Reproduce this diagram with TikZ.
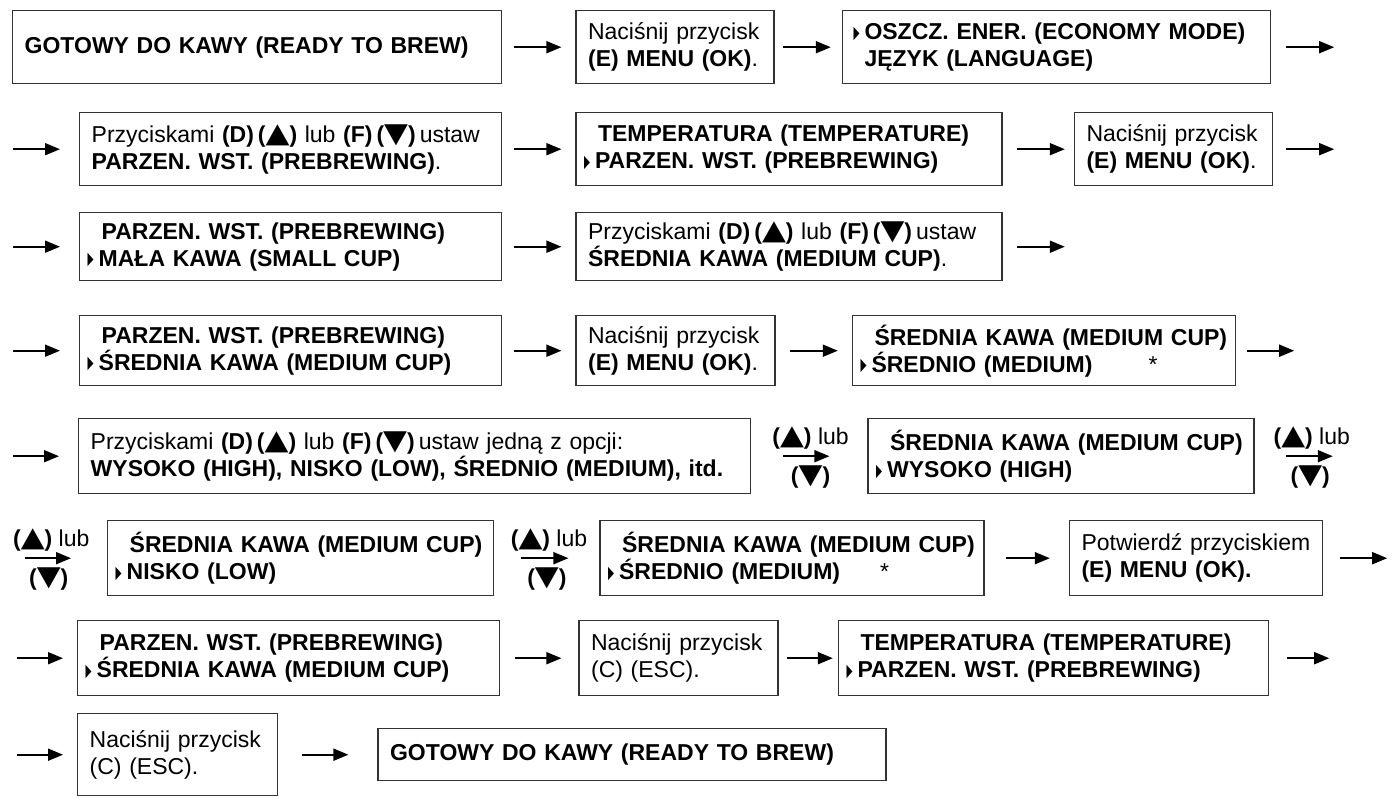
\documentclass[tikz,border=0pt]{standalone}
\usepackage{fontspec}
\usepackage{graphicx}
\usepackage{tikz}
\usetikzlibrary{positioning,arrows.meta}
\setmainfont{Liberation Sans}
\newfontfamily\symf{DejaVu Sans}

\newcommand{\sel}{\makebox[11pt][l]{\raisebox{1.5pt}{\scalebox{0.34}[0.76]{\symf ▶}}}}
\newcommand{\nsel}{\hspace*{14pt}}
\newcommand{\kup}{\textbf{(}\scalebox{1.35}[1.2]{\symf ▲}\textbf{)}}
\newcommand{\kdn}{\textbf{(}\scalebox{1.35}[1.2]{\symf ▼}\textbf{)}}

\begin{document}
\begin{tikzpicture}[x=1pt, y=1pt,
  panel/.style={draw=black!80, line width=1.4pt, align=left, minimum height=73pt, anchor=north west, font=\fontsize{23}{27}\selectfont},
  hint/.style={panel, inner xsep=12pt},
  lcd/.style={panel, inner xsep=8pt, font=\fontsize{23}{27}\selectfont\bfseries},
  rel/.style={-{Triangle[length=15pt,width=12pt]}, line width=1.8pt, shorten <=12pt, shorten >=14pt},
  keys/.style={font=\fontsize{23}{27}\selectfont, inner sep=1pt}]
\useasboundingbox (0,0) rectangle (1393,-798);

% row 1
\node[hint, text width=465pt] (ready1) at (12,-10) {\textbf{GOTOWY DO KAWY (READY TO BREW)}};
\node[hint, right=73pt of ready1, text width=174pt] (press1) {Naciśnij przycisk\\\textbf{(E) MENU (OK)}.};
\node[lcd, right=67pt of press1, text width=412pt] (econ) {\hspace*{3pt}\sel OSZCZ. ENER. (ECONOMY MODE)\\\nsel JĘZYK (LANGUAGE)};
\coordinate[right=63pt of econ] (out1);
\draw[rel] (ready1) -- (press1);
\draw[rel, shorten <=8pt, shorten >=11pt] (press1) -- (econ);
\draw[rel, shorten <=15pt, shorten >=0pt] (econ) -- (out1);

% row 2
\node[hint, text width=398pt] (setD1) at (79,-112) {Przyciskami \textbf{(D)}\hspace{4pt}\kup{} lub \textbf{(F)}\hspace{4pt}\kdn\hspace{4pt}ustaw\\\textbf{PARZEN. WST. (PREBREWING)}.};
\node[lcd, right=73pt of setD1, text width=410pt] (temp1) {\nsel TEMPERATURA (TEMPERATURE)\\\sel PARZEN. WST. (PREBREWING)};
\node[hint, right=71pt of temp1, text width=174pt] (press2) {Naciśnij przycisk\\\textbf{(E) MENU (OK)}.};
\coordinate[left=66pt of setD1] (in2);
\coordinate[right=61pt of press2] (out2);
\draw[rel, shorten <=0pt, shorten >=19pt] (in2) -- (setD1);
\draw[rel] (setD1) -- (temp1);
\draw[rel, shorten <=14pt, shorten >=9pt] (temp1) -- (press2);
\draw[rel, shorten <=13pt, shorten >=0pt] (press2) -- (out2);

% row 3
\node[lcd, text width=406pt, minimum height=68pt] (pre1) at (79,-212) {\nsel PARZEN. WST. (PREBREWING)\\\sel MAŁA KAWA (SMALL CUP)};
\node[hint, right=73pt of pre1, text width=402pt, minimum height=68pt] (setD2) {Przyciskami \textbf{(D)}\hspace{4pt}\kup{} lub \textbf{(F)}\hspace{4pt}\kdn\hspace{4pt}ustaw\\\textbf{ŚREDNIA KAWA (MEDIUM CUP)}.};
\coordinate[left=66pt of pre1] (in3);
\coordinate[right=62pt of setD2] (out3);
\draw[rel, shorten <=0pt, shorten >=19pt] (in3) -- (pre1);
\draw[rel] (pre1) -- (setD2);
\draw[rel, shorten <=14pt, shorten >=0pt] (setD2) -- (out3);

% row 4
\node[lcd, text width=406pt, minimum height=70pt] (pre2) at (79,-315) {\nsel PARZEN. WST. (PREBREWING)\\\sel ŚREDNIA KAWA (MEDIUM CUP)};
\node[hint, right=73pt of pre2, text width=175pt, minimum height=70pt] (press3) {Naciśnij przycisk\\\textbf{(E) MENU (OK)}.};
\node[lcd, right=76pt of press3, text width=367pt, minimum height=70pt] (med1) {\nsel ŚREDNIA KAWA (MEDIUM CUP)\\\sel ŚREDNIO (MEDIUM)\hspace{56pt}{\mdseries *}};
\coordinate[left=66pt of pre2] (in4);
\coordinate[right=58pt of med1] (out4);
\draw[rel, shorten <=0pt, shorten >=19pt] (in4) -- (pre2);
\draw[rel] (pre2) -- (press3);
\draw[rel, shorten <=14pt, shorten >=14pt] (press3) -- (med1);
\draw[rel, shorten <=11pt, shorten >=0pt] (med1) -- (out4);

% row 5
\node[hint, text width=648pt, minimum height=75pt] (setD3) at (78,-418) {Przyciskami \textbf{(D)}\hspace{4pt}\kup{} lub \textbf{(F)}\hspace{4pt}\kdn\hspace{4pt}ustaw jedną z opcji:\\\textbf{WYSOKO (HIGH), NISKO (LOW), ŚREDNIO (MEDIUM), itd.}};
\node[lcd, right=116pt of setD3, text width=370pt, minimum height=75pt] (high) {\nsel ŚREDNIA KAWA (MEDIUM CUP)\\\sel WYSOKO (HIGH)};
\coordinate[left=65pt of setD3] (in5);
\coordinate[right=78pt of high] (out5);
\draw[rel, shorten <=0pt, shorten >=19pt] (in5) -- (setD3);
\draw[rel, shorten <=32pt, shorten >=38pt] (setD3) -- (high)
  node[keys, above=5pt, pos=0.51] {\kup{} lub} node[keys, below=8pt, pos=0.51] {\kdn};
\draw[rel, shorten <=31pt, shorten >=0pt] (high) -- (out5)
  node[keys, above=5pt, pos=0.73] {\kup{} lub} node[keys, below=8pt, pos=0.71] {\kdn};

% row 6
\node[lcd, text width=370pt, minimum height=75pt] (low) at (107,-520) {\nsel ŚREDNIA KAWA (MEDIUM CUP)\\\sel NISKO (LOW)};
\node[lcd, right=105pt of low, text width=368pt, minimum height=75pt] (medsel) {\nsel ŚREDNIA KAWA (MEDIUM CUP)\\\sel ŚREDNIO (MEDIUM)\hspace{40pt}{\mdseries *}};
\node[hint, right=84pt of medsel, text width=229pt, minimum height=75pt] (confirm) {Potwierdź przyciskiem\\\textbf{(E) MENU (OK).}};
\coordinate[left=82pt of low] (in6);
\coordinate[right=64pt of confirm] (out6);
\draw[rel, shorten <=0pt, shorten >=36pt] (in6) -- (low)
  node[keys, above=5pt, pos=0.32] {\kup{} lub} node[keys, below=8pt, pos=0.29] {\kdn};
\draw[rel, shorten <=27pt, shorten >=31pt] (low) -- (medsel)
  node[keys, above=5pt, pos=0.52] {\kup{} lub} node[keys, below=8pt, pos=0.5] {\kdn};
\draw[rel, shorten <=21pt, shorten >=19pt] (medsel) -- (confirm);
\draw[rel, shorten <=17pt, shorten >=0pt] (confirm) -- (out6);

% row 7
\node[lcd, text width=406pt, minimum height=75pt] (pre3) at (77,-620) {\nsel PARZEN. WST. (PREBREWING)\\\sel ŚREDNIA KAWA (MEDIUM CUP)};
\node[hint, right=78pt of pre3, text width=175pt, minimum height=75pt] (esc1) {Naciśnij przycisk\\(C) (ESC).};
\node[lcd, right=59pt of esc1, text width=414pt, minimum height=75pt] (temp2) {\nsel TEMPERATURA (TEMPERATURE)\\\sel PARZEN. WST. (PREBREWING)};
\coordinate[left=60pt of pre3] (in7);
\coordinate[right=60pt of temp2] (out7);
\draw[rel, shorten <=0pt, shorten >=14pt] (in7) -- (pre3);
\draw[rel, shorten <=15pt, shorten >=17pt] (pre3) -- (esc1);
\draw[rel, shorten <=8pt, shorten >=5pt] (esc1) -- (temp2);
\draw[rel, shorten <=18pt, shorten >=0pt] (temp2) -- (out7);

% row 8
\node[hint, text width=176pt, minimum height=82pt] (esc2) at (77,-713) {Naciśnij przycisk\\(C) (ESC).};
\node[hint, right=99pt of esc2, text width=484pt, minimum height=52pt] (ready2) {\textbf{GOTOWY DO KAWY (READY TO BREW)}};
\coordinate[left=60pt of esc2] (in8);
\draw[rel, shorten <=0pt, shorten >=14pt] (in8) -- (esc2);
\draw[rel, shorten <=24pt, shorten >=29pt] (esc2) -- (ready2);
\end{tikzpicture}
\end{document}
